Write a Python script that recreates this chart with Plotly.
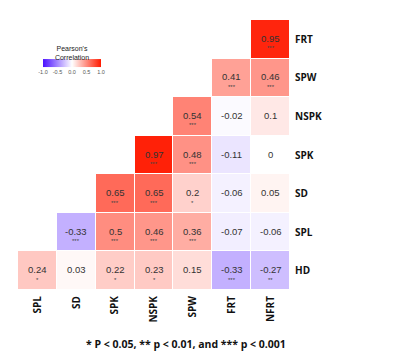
import plotly.graph_objects as go

cols = ["SPL", "SD", "SPK", "NSPK", "SPW", "FRT", "NFRT"]
rows = ["FRT", "SPW", "NSPK", "SPK", "SD", "SPL", "HD"]

r_FRT  = [None, None, None, None, None, None, 0.95]
r_SPW  = [None, None, None, None, None, 0.41, 0.46]
r_NSPK = [None, None, None, None, 0.54, -0.02, 0.1]
r_SPK  = [None, None, None, 0.97, 0.48, -0.11, 0]
r_SD   = [None, None, 0.65, 0.65, 0.2, -0.06, 0.05]
r_SPL  = [None, -0.33, 0.5, 0.46, 0.36, -0.07, -0.06]
r_HD   = [0.24, 0.03, 0.22, 0.23, 0.15, -0.33, -0.27]
z = [r_FRT, r_SPW, r_NSPK, r_SPK, r_SD, r_SPL, r_HD]

s_FRT  = ["", "", "", "", "", "", "***"]
s_SPW  = ["", "", "", "", "", "***", "***"]
s_NSPK = ["", "", "", "", "***", "", ""]
s_SPK  = ["", "", "", "***", "***", "", ""]
s_SD   = ["", "", "***", "***", "*", "", ""]
s_SPL  = ["", "***", "***", "***", "***", "", ""]
s_HD   = ["*", "", "*", "*", "", "***", "**"]
stars = [s_FRT, s_SPW, s_NSPK, s_SPK, s_SD, s_SPL, s_HD]

cb_ticks = [-1, -0.5, 0, 0.5, 1]
cb_labels = ["-1.0", "-0.5", "0.0", "0.5", "1.0"]
footnote = "* P < 0.05, ** p < 0.01, and *** p < 0.001"

# page body has an 8px margin; plot area targeted at page x 18-290, y 20-290
L, T, PW, PH = 10, 12, 272, 270

def px(x):
    return (x - L) / PW

def py(y):
    return (T + PH - y) / PH

fig = go.Figure()
fig.add_trace(go.Heatmap(
    z=z, x=cols, y=rows,
    zmin=-1, zmax=1,
    colorscale=[[0, "#4a10ff"], [0.5, "#ffffff"], [1, "#ff1a00"]],
    xgap=1, ygap=1,
    hoverongaps=False,
    colorbar=dict(
        orientation="h",
        lenmode="pixels", len=58,
        thickness=8,
        xpad=0, ypad=0,
        x=px(64), xanchor="center",
        y=py(50), yanchor="middle",
        outlinewidth=0,
        ticks="",
        tickangle=0,
        tickvals=cb_ticks,
        ticktext=cb_labels,
        tickfont=dict(size=5.5, color="#555", family="Liberation Sans"),
        title=dict(text="Pearson's<br>Correlation", side="top",
                   font=dict(size=7, color="#222", family="Liberation Sans")),
    ),
))

annotations = []
for i, rname in enumerate(rows):
    for j, cname in enumerate(cols):
        v = z[i][j]
        if v is None:
            continue
        annotations.append(dict(x=cname, y=rname, xref="x", yref="y",
                                text=f"{v:g}", showarrow=False, yshift=1,
                                font=dict(size=9.5, color="#333", family="Liberation Sans")))
        if stars[i][j]:
            annotations.append(dict(x=cname, y=rname, xref="x", yref="y",
                                    text=stars[i][j], showarrow=False, yshift=-9,
                                    font=dict(size=6, color="#444", family="Liberation Sans")))

annotations.append(dict(xref="paper", yref="paper",
                        x=px(178), y=py(336),
                        xanchor="center", yanchor="middle",
                        text=footnote, showarrow=False,
                        font=dict(size=10.5, color="#111", family="Open Sans", weight="bold")))

fig.update_layout(
    width=404, height=354,
    margin=dict(l=L, r=404 - L - PW, t=T, b=354 - T - PH),
    paper_bgcolor="white", plot_bgcolor="white",
    annotations=annotations,
    xaxis=dict(type="category", categoryorder="array", categoryarray=cols,
               showgrid=False, zeroline=False, showline=False, ticks="",
               tickangle=-90, ticklabelstandoff=3,
               tickfont=dict(size=10, color="#111", family="Open Sans", weight="bold")),
    yaxis=dict(type="category", categoryorder="array", categoryarray=rows,
               autorange="reversed", side="right",
               showgrid=False, zeroline=False, showline=False, ticks="",
               ticklabelstandoff=4,
               tickfont=dict(size=10, color="#111", family="Open Sans", weight="bold")),
)

fig.write_html("out.html")
